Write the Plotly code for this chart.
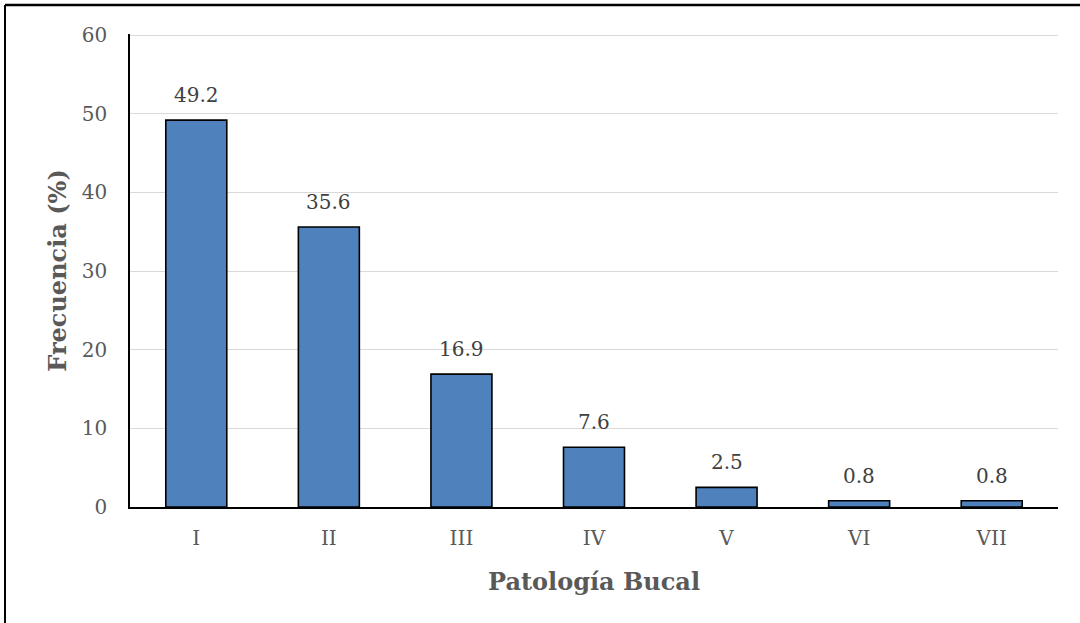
import plotly.graph_objects as go

# Oral pathology categories and their frequency (%)
categorias = ["I", "II", "III", "IV", "V", "VI", "VII"]
frecuencia = [49.2, 35.6, 16.9, 7.6, 2.5, 0.8, 0.8]
y_ticks = [0, 10, 20, 30, 40, 50, 60]

FONT = "DejaVu Serif"
TICK_GRAY = "#595959"
LABEL_GRAY = "#404040"

fig = go.Figure()
fig.add_trace(go.Bar(
    x=categorias,
    y=frecuencia,
    marker=dict(color="#4f81bd", line=dict(color="black", width=1.6)),
    width=0.46,
    hoverinfo="x+y",
))

# Value labels above each bar
for cat, val in zip(categorias, frecuencia):
    fig.add_annotation(
        x=cat, y=val, text=f"{val:.1f}",
        showarrow=False, yanchor="bottom", yshift=11,
        font=dict(family=FONT, size=20, color=LABEL_GRAY),
    )

fig.update_layout(
    width=1080, height=623,
    margin=dict(l=130, r=22, t=34, b=116),
    paper_bgcolor="white", plot_bgcolor="white",
    showlegend=False,
    font=dict(family=FONT, color=TICK_GRAY),
    xaxis=dict(
        type="category", range=[-0.5, 6.5],
        showline=True, linecolor="black", linewidth=1.5,
        ticks="", ticklabelstandoff=12,
        tickfont=dict(family=FONT, size=20, color=TICK_GRAY),
        title=dict(text="<b>Patología Bucal</b>", standoff=24,
                   font=dict(family=FONT, size=24, color=TICK_GRAY)),
    ),
    yaxis=dict(
        range=[0, 60.15], tickvals=y_ticks,
        showline=True, linecolor="black", linewidth=1.5,
        showgrid=True, gridcolor="#d9d9d9", gridwidth=1.3,
        zeroline=False, ticks="", ticklabelstandoff=17,
        tickfont=dict(family=FONT, size=20, color=TICK_GRAY),
        title=dict(text="<b>Frecuencia (%)</b>", standoff=8,
                   font=dict(family=FONT, size=24, color=TICK_GRAY)),
    ),
    shapes=[
        # outer frame, top and left edges
        dict(type="line", xref="paper", yref="paper", x0=-0.1347, x1=1.1, y0=1.0615, y1=1.0615,
             line=dict(color="black", width=2.5)),
        dict(type="line", xref="paper", yref="paper", x0=-0.1347, x1=-0.1347, y0=-0.3, y1=1.0615,
             line=dict(color="black", width=2)),
    ],
)

fig.write_html("out.html")
